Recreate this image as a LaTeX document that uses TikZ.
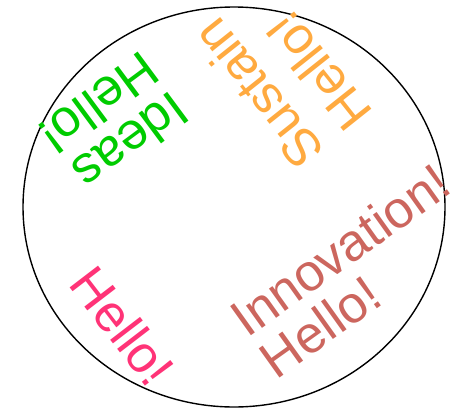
\documentclass[tikz,border=0pt]{standalone}
\usepackage{fontspec}
\setmainfont{Liberation Sans}
\usetikzlibrary{positioning}
\definecolor{wgreen}{RGB}{0,204,0}
\definecolor{worange}{RGB}{255,170,64}
\definecolor{wred}{RGB}{204,102,94}
\definecolor{wpink}{RGB}{255,51,119}

\begin{document}
\begin{tikzpicture}[x=1pt,y=1pt,word/.style={inner sep=0pt,align=left,font=\fontsize{52}{50.5}\selectfont}]
		\useasboundingbox (0,0) rectangle (463,408);
		\draw[line width=1.4pt] (234,201) ellipse [x radius=211, y radius=200];
		\node (ideas) [word, text=wgreen, rotate=-143.5, font=\fontsize{52}{50}\selectfont] at (114,284) {Ideas\\Hello!};
		\node (sustain) [word, text=worange, rotate=128.5, font=\fontsize{52}{61}\selectfont] at (281.6,333) {Sustain\\Hello!};
		\node (innov) [word, text=wred, rotate=35.5] at (354.7,137.5) {Innovation!\\Hello!};
		\node (hello) [word, text=wpink, rotate=-52.5] at (123,82) {Hello!};
		\end{tikzpicture}
\end{document}
